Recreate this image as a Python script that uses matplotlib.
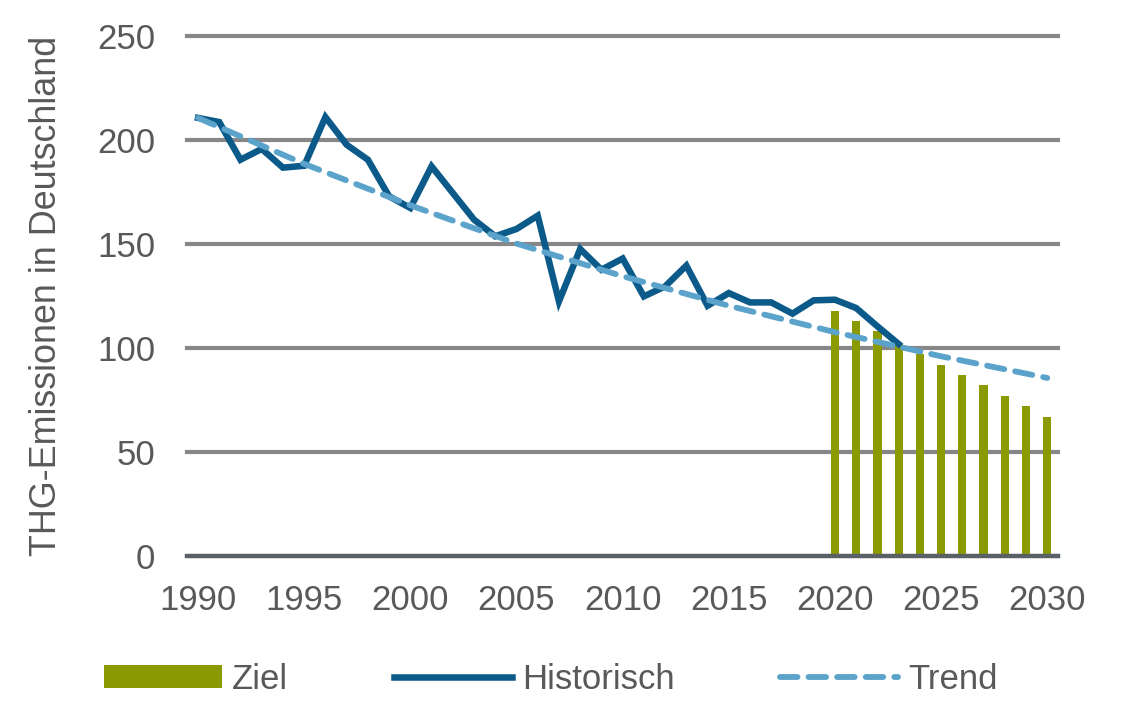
import numpy as np
import matplotlib
matplotlib.use("Agg")
from matplotlib import pyplot as plt

# data
hist_years = list(range(1990, 2024))
hist_values = [210.6, 208.6, 190.5, 195.7, 186.7, 187.6, 211.0, 197.7, 190.5, 172.9,
               167.3, 187.3, 174.5, 161.7, 153.7, 157.2, 163.6, 122.4, 147.6, 137.6,
               143.0, 124.8, 129.6, 139.6, 120.3, 126.4, 121.9, 121.9, 116.5, 122.9,
               123.2, 119.2, 110.4, 101.9]

target_years = list(range(2020, 2031))
target_values = [118, 113, 108, 102, 97, 92, 87, 82, 77, 72, 67]

trend_years = [1990, 1995, 2000, 2005, 2010, 2015, 2020, 2025, 2030]
trend_values = [210.6, 188.5, 168.6, 150.2, 134.5, 120.3, 107.6, 96.0, 85.6]

yticks = [0, 50, 100, 150, 200, 250]
xticks = [1990, 1995, 2000, 2005, 2010, 2015, 2020, 2025, 2030]

text_col = '#595959'
plt.rcParams['font.family'] = ['Liberation Sans', 'DejaVu Sans']

fig = plt.figure(figsize=(11.29, 7.15), dpi=100)
ax = fig.add_axes([0.166, 0.2224, 0.771, 0.7273])

for t in yticks[1:]:
    ax.axhline(t, color='#878787', lw=3.0, zorder=1, clip_on=False)
ax.axhline(0, color='#5b6066', lw=3.2, zorder=4, clip_on=False)

bars = ax.bar(target_years, target_values, width=0.39, color='#8a9a00', zorder=2, label='Ziel')
hist_line, = ax.plot(hist_years, hist_values, color='#0b5a8a', lw=4.7, zorder=3,
                     solid_joinstyle='miter', label='Historisch')
trend_line, = ax.plot(trend_years, trend_values, color='#5ba3cb', lw=4.2, zorder=5,
                      dashes=(3.0, 1.9), dash_capstyle='round', label='Trend')

ax.set_xlim(1989.5, 2030.5)
ax.set_ylim(0, 250)
ax.set_xticks(xticks)
ax.set_yticks(yticks)
ax.tick_params(length=0, labelsize=25, colors=text_col)
ax.tick_params(axis='y', pad=23)
ax.tick_params(axis='x', pad=20)
for s in ax.spines.values():
    s.set_visible(False)
ax.set_ylabel('THG-Emissionen in Deutschland', fontsize=25.8, color=text_col, labelpad=24)

leg = fig.legend([bars, hist_line, trend_line], ['Ziel', 'Historisch', 'Trend'],
                 loc='center', bbox_to_anchor=(0.488, 0.05), ncol=3,
                 frameon=False, fontsize=25, handlelength=3.4, handletextpad=0.28,
                 columnspacing=3.05, handleheight=0.6)
for txt in leg.get_texts():
    txt.set_color(text_col)

fig.savefig('out.png', dpi=100)
